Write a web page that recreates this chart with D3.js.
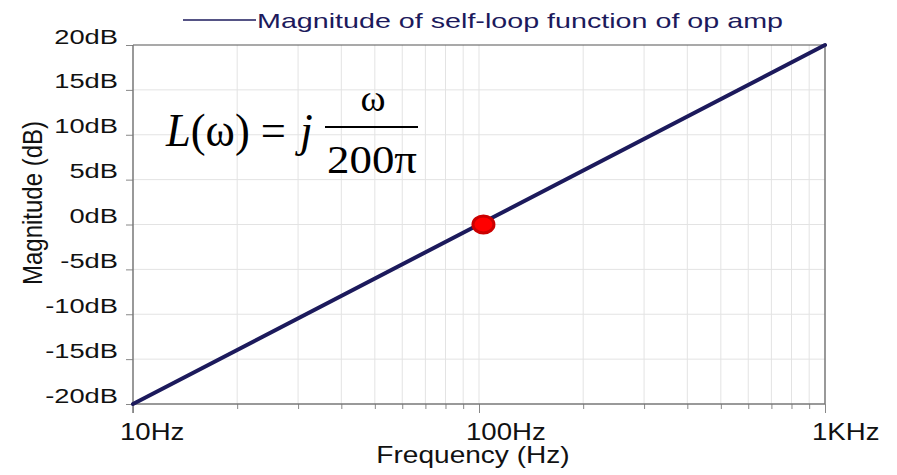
<!DOCTYPE html>
<html>
<head>
<meta charset="utf-8">
<script src="https://cdn.jsdelivr.net/npm/d3@7"></script>
<style>
  html, body { margin: 0; padding: 0; background: #fff; }
  svg { display: block; }
</style>
</head>
<body>
<svg id="chart" width="897" height="475"></svg>
<script>
// Bode magnitude of the op-amp self-loop function L(ω) = jω/(200π)
const freqHz = [10, 100, 1000];
const magDb = [-20, 0, 20];
const crossoverHz = [103];
const crossoverDb = [0];
const yTicks = [-20, -15, -10, -5, 0, 5, 10, 15, 20];
const yTickLabels = ["-20dB", "-15dB", "-10dB", "-5dB", "0dB", "5dB", "10dB", "15dB", "20dB"];
const xMajor = [10, 100, 1000];
const xMajorLabels = ["10Hz", "100Hz", "1KHz"];
const xMinor = [20, 30, 40, 50, 60, 70, 80, 90, 200, 300, 400, 500, 600, 700, 800, 900];
const seriesName = "Magnitude of self-loop function of op amp";

const svg = d3.select("#chart");
const plot = { left: 133, right: 825, top: 45, bottom: 404 };
const navy = "#1c1a5c";
const textFont = "'Liberation Sans', Arial, sans-serif";
const serif = "'Liberation Serif', 'Times New Roman', serif";

const x = d3.scaleLog().domain([10, 1000]).range([plot.left, plot.right]);
const y = d3.scaleLinear().domain([-20, 20]).range([plot.bottom, plot.top]);

// grid
const grid = svg.append("g").attr("stroke", "#e3e3e3").attr("stroke-width", 1);
grid.selectAll("line.v").data(xMinor.concat([100])).join("line")
  .attr("x1", d => x(d)).attr("x2", d => x(d))
  .attr("y1", plot.top).attr("y2", plot.bottom);
grid.selectAll("line.h").data(yTicks.filter(d => d > -20 && d < 20)).join("line")
  .attr("x1", plot.left).attr("x2", plot.right)
  .attr("y1", d => y(d)).attr("y2", d => y(d));

// frame
svg.append("line").attr("x1", plot.left).attr("x2", plot.right)
  .attr("y1", plot.top).attr("y2", plot.top).attr("stroke", "#555").attr("stroke-width", 1.2);
svg.append("line").attr("x1", plot.right).attr("x2", plot.right)
  .attr("y1", plot.top).attr("y2", plot.bottom).attr("stroke", "#777").attr("stroke-width", 1.5);

// axes
const yAxis = d3.axisLeft(y).tickValues(yTicks).tickSize(7).tickFormat("");
const gy = svg.append("g").attr("transform", `translate(${plot.left},0)`).call(yAxis);
gy.select(".domain").remove();
gy.selectAll(".tick line").attr("stroke", "#888");
svg.append("line").attr("x1", plot.left).attr("x2", plot.left)
  .attr("y1", plot.top).attr("y2", plot.bottom + 9).attr("stroke", "#777").attr("stroke-width", 1.5);

const xAxisMinor = d3.axisBottom(x).tickValues(xMinor).tickSize(5).tickFormat("");
const gxm = svg.append("g").attr("transform", `translate(0,${plot.bottom})`).call(xAxisMinor);
gxm.select(".domain").remove();
gxm.selectAll(".tick line").attr("stroke", "#888");
const xAxisMajor = d3.axisBottom(x).tickValues(xMajor).tickSize(9).tickFormat("");
const gxM = svg.append("g").attr("transform", `translate(0,${plot.bottom})`).call(xAxisMajor);
gxM.select(".domain").remove();
gxM.selectAll(".tick line").attr("stroke", "#888");
svg.append("line").attr("x1", plot.left).attr("x2", plot.right)
  .attr("y1", plot.bottom).attr("y2", plot.bottom).attr("stroke", "#777").attr("stroke-width", 1.5);

// tick labels
svg.append("g").selectAll("text").data(yTicks).join("text")
  .attr("transform", d => `translate(118,${y(d) - 1.5}) scale(1.3,1)`)
  .attr("text-anchor", "end")
  .attr("font-family", textFont).attr("font-size", 21).attr("fill", "#111")
  .text((d, i) => yTickLabels[i]);

svg.append("g").selectAll("text").data(xMajor).join("text")
  .attr("transform", d => `translate(${x(d) - 13},440) scale(1.2,1)`)
  .attr("font-family", textFont).attr("font-size", 23).attr("fill", "#111")
  .text((d, i) => xMajorLabels[i]);

// axis titles
svg.append("text")
  .attr("transform", "translate(473,463) scale(1.22,1)")
  .attr("text-anchor", "middle")
  .attr("font-family", textFont).attr("font-size", 23).attr("fill", "#111")
  .text("Frequency (Hz)");
svg.append("text")
  .attr("transform", "translate(42,203) scale(1.15,1) rotate(-90)")
  .attr("text-anchor", "middle")
  .attr("font-family", textFont).attr("font-size", 24).attr("fill", "#111")
  .text("Magnitude (dB)");

// legend
svg.append("line").attr("x1", 183).attr("x2", 256).attr("y1", 20).attr("y2", 20)
  .attr("stroke", navy).attr("stroke-width", 1.6);
svg.append("text")
  .attr("x", 257).attr("y", 28)
  .attr("textLength", 526).attr("lengthAdjust", "spacingAndGlyphs")
  .attr("font-family", textFont).attr("font-size", 21).attr("fill", navy)
  .text(seriesName);

// magnitude line
const line = d3.line().x((d, i) => x(freqHz[i])).y(d => y(d));
svg.append("path").datum(magDb)
  .attr("d", line)
  .attr("fill", "none").attr("stroke", navy).attr("stroke-width", 4)
  .attr("stroke-linecap", "round");

// crossover marker
svg.append("g").selectAll("ellipse").data(crossoverHz).join("ellipse")
  .attr("cx", d => x(d)).attr("cy", (d, i) => y(crossoverDb[i]))
  .attr("rx", 10.5).attr("ry", 8.5)
  .attr("fill", "#ff0000").attr("stroke", "#cc0000").attr("stroke-width", 3);

// transfer function formula
const eq = svg.append("g").attr("font-family", serif).attr("fill", "#000");
eq.append("text").attr("x", 166).attr("y", 146).attr("font-size", 46)
  .attr("textLength", 120).attr("lengthAdjust", "spacingAndGlyphs")
  .call(t => {
    t.append("tspan").attr("font-style", "italic").text("L");
    t.append("tspan").text("(ω) =");
  });
eq.append("text").attr("x", 300).attr("y", 146).attr("font-size", 46)
  .attr("font-style", "italic").text("j");
eq.append("line").attr("x1", 325).attr("x2", 418).attr("y1", 127).attr("y2", 127)
  .attr("stroke", "#000").attr("stroke-width", 1.8);
eq.append("text").attr("x", 373).attr("y", 111).attr("font-size", 38)
  .attr("text-anchor", "middle").text("ω");
eq.append("text").attr("x", 327).attr("y", 173).attr("font-size", 39)
  .attr("textLength", 90).attr("lengthAdjust", "spacingAndGlyphs").text("200π");
</script>
</body>
</html>
